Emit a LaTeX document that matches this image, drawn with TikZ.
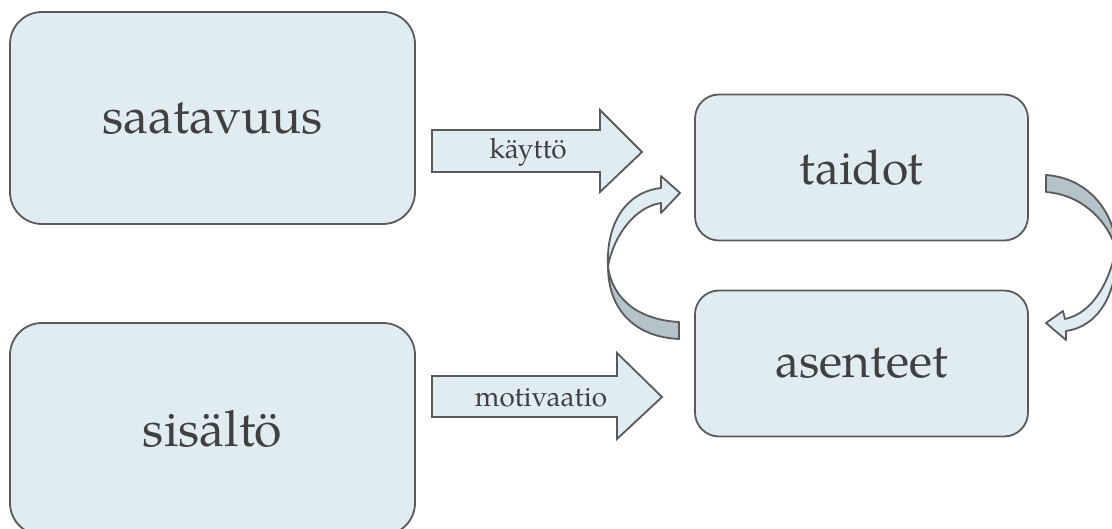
\documentclass[tikz,border=0pt]{standalone}
\usepackage{fontspec}
\setmainfont{TeX Gyre Pagella}
\definecolor{boxfill}{HTML}{DFECF2}
\definecolor{darkband}{HTML}{B4C3CA}
\definecolor{edgegray}{HTML}{5A5A5A}
\definecolor{txtgray}{HTML}{404040}
\begin{document}
\begin{tikzpicture}[x=1pt,y=-1pt,
  box/.style={draw=edgegray, fill=boxfill, line width=1.8pt, text=txtgray, inner sep=0pt},
  bigbox/.style={box, minimum width=405pt, minimum height=212pt, rounded corners=32pt, font=\fontsize{50}{60}\selectfont},
  smallbox/.style={box, minimum width=333pt, minimum height=146pt, rounded corners=24pt, font=\fontsize{48}{58}\selectfont},
  blockarrow/.style={draw=edgegray, fill=boxfill, line width=1.8pt, line join=miter},
  bandlight/.style={draw=edgegray, fill=boxfill, line width=1.8pt, line join=round},
  banddark/.style={draw=edgegray, fill=darkband, line width=1.8pt, line join=round},
  arrowlabel/.style={text=txtgray, font=\fontsize{28}{34}\selectfont, inner sep=0pt}]
\useasboundingbox (0,0) rectangle (1112,529);
\clip (0,0) rectangle (1112,529);

% boxes
\node[bigbox] (saat) at (212.5,118) {saatavuus};
\node[bigbox] (sis) at (212.5,429) {sisältö};
\node[smallbox] (taid) at (861.5,167.5) {taidot};
\node[smallbox] (asen) at (861.5,363.5) {asenteet};

% block arrow: käyttö
\draw[blockarrow] (432,130) -- (600,130) -- (600,110) -- (642,152) -- (600,192) -- (600,172) -- (432,172) -- cycle;
\node[arrowlabel] (kay) at (528,152) {käyttö};

% block arrow: motivaatio
\draw[blockarrow] (432,376) -- (617,376) -- (617,353) -- (662,397) -- (617,439) -- (617,417) -- (432,417) -- cycle;
\node[arrowlabel] (mot) at (541,398) {motivaatio};

% left curved arrow (asenteet -> taidot)
\draw[banddark] (608,266) .. controls (608,310) and (635,337) .. (679,339)
  -- (679,322) .. controls (640,320) and (612,300) .. (608,266) -- cycle;
\draw[bandlight] (608,266) .. controls (606,225) and (625,192) .. (661,188)
  -- (661,176) -- (680,193) -- (661,213) -- (661,203)
  .. controls (635,207) and (614,235) .. (608,266) -- cycle;

% right curved arrow (taidot -> asenteet)
\draw[banddark] (1046,175) .. controls (1090,178) and (1116,215) .. (1116,250)
  .. controls (1110,225) and (1085,195) .. (1046,192) -- cycle;
\draw[bandlight] (1116,250) .. controls (1118,295) and (1097,327) .. (1066,331)
  -- (1066,340) -- (1046,323) -- (1063,311) -- (1065,319)
  .. controls (1092,313) and (1108,285) .. (1116,250) -- cycle;
\end{tikzpicture}
\end{document}
